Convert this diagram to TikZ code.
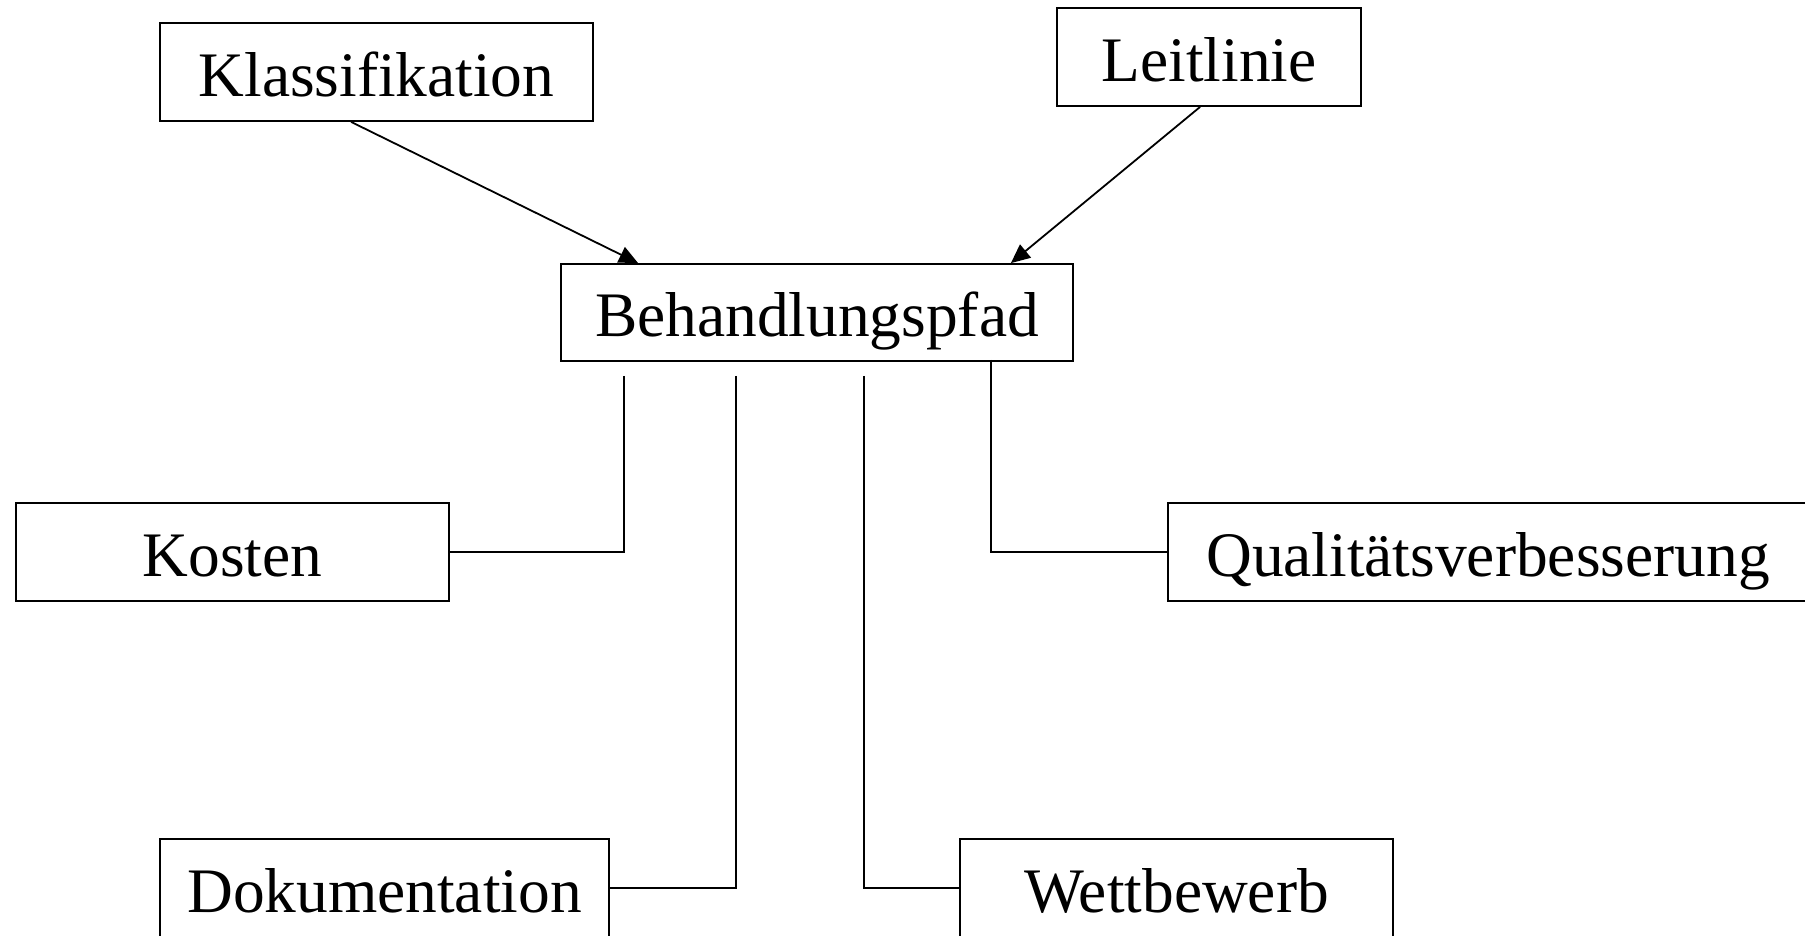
\documentclass[tikz,border=0pt]{standalone}
\usepackage{fontspec}
\setmainfont{Liberation Serif}
\usetikzlibrary{arrows.meta,calc}
\begin{document}
\begin{tikzpicture}[x=1pt,y=-1pt,
  box/.style={draw=black,line width=1.8pt,inner sep=0pt,anchor=center,
    text height=48pt,text depth=0pt,
    font=\fontsize{63.4}{76}\selectfont},
  link/.style={draw=black,line width=1.8pt},
  arr/.style={link,-{Triangle[length=19pt,width=17pt]}}]
\useasboundingbox (0,0) rectangle (1805,935);
\node[box,minimum width=433pt,minimum height=98pt] (klass) at (376.5,72) {Klassifikation};
\node[box,minimum width=304pt,minimum height=98pt] (leit) at (1209,57) {Leitlinie};
\node[box,minimum width=512pt,minimum height=97pt] (beh) at (817,312.5) {Behandlungspfad};
\node[box,minimum width=433pt,minimum height=98pt] (kost) at (232.5,552) {Kosten};
\node[box,minimum width=640pt,minimum height=98pt] (qual) at (1488,552) {Qualitätsverbesserung};
\node[box,minimum width=449pt,minimum height=98pt] (doku) at (384.5,888) {Dokumentation};
\node[box,minimum width=433pt,minimum height=98pt] (wett) at (1176.5,888) {Wettbewerb};
\coordinate (k0) at ($(klass.south west)+(192,0)$);
\coordinate (k1) at ($(beh.north west)+(78,0)$);
\coordinate (l0) at ($(leit.south west)+(144,0)$);
\coordinate (l1) at ($(beh.north east)+(-63,0)$);
\draw[arr] (k0) -- (k1);
\draw[arr] (l0) -- (l1);
\coordinate (c1) at ($(beh.south west)+(64,14)$);
\coordinate (c2) at ($(beh.south west)+(176,14)$);
\coordinate (c3) at ($(beh.south west)+(304,14)$);
\coordinate (c4) at ($(beh.south west)+(431,-2)$);
\draw[link] (c1) |- (kost.east);
\draw[link] (c2) |- (doku.east);
\draw[link] (c3) |- (wett.west);
\draw[link] (c4) |- (qual.west);
\end{tikzpicture}
\end{document}
